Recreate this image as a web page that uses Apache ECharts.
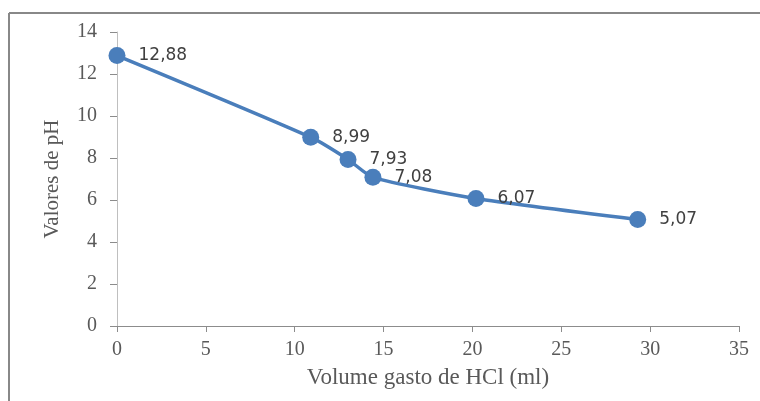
<!DOCTYPE html>
<html><head><meta charset="utf-8">
<script src="https://cdn.jsdelivr.net/npm/echarts@6/dist/echarts.min.js"></script>
<style>html,body{margin:0;padding:0;background:#fff}#c{width:760px;height:401px}</style>
</head><body><div id="c"></div>
<script>
var volumes = [0, 10.9, 13.0, 14.4, 20.2, 29.3];
var phValues = [12.88, 8.99, 7.93, 7.08, 6.07, 5.07];
var phLabels = ['12,88', '8,99', '7,93', '7,08', '6,07', '5,07'];
var xTitle = 'Volume gasto de HCl (ml)';
var yTitle = 'Valores de pH';

var chart = echarts.init(document.getElementById('c'), null, {renderer: 'canvas'});
var data = volumes.map(function (v, i) { return [v, phValues[i]]; });
var serif = '"Liberation Serif", "DejaVu Serif", serif';
chart.setOption({
  animation: false,
  backgroundColor: '#fff',
  grid: {left: 117, right: 21, top: 32, bottom: 75, containLabel: false},
  xAxis: {
    type: 'value', min: 0, max: 35, interval: 5,
    name: xTitle, nameLocation: 'middle', nameGap: 40,
    nameTextStyle: {fontFamily: serif, fontSize: 23, color: '#595959'},
    axisLine: {show: true, lineStyle: {color: '#8c8c8c', width: 1}},
    axisTick: {show: true, length: 6, lineStyle: {color: '#8c8c8c'}},
    axisLabel: {fontFamily: serif, fontSize: 20, color: '#595959', margin: 14},
    splitLine: {show: false}
  },
  yAxis: {
    type: 'value', min: 0, max: 14, interval: 2,
    name: yTitle, nameLocation: 'middle', nameGap: 54, nameRotate: 90,
    nameTextStyle: {fontFamily: serif, fontSize: 21, color: '#595959'},
    axisLine: {show: true, lineStyle: {color: '#bfbfbf', width: 1}},
    axisTick: {show: true, length: 7, lineStyle: {color: '#8c8c8c'}},
    axisLabel: {fontFamily: serif, fontSize: 20, color: '#595959', margin: 20},
    splitLine: {show: false}
  },
  series: [{
    type: 'line', data: data, smooth: 0.2,
    symbol: 'circle', symbolSize: 17,
    lineStyle: {color: '#4a7ebb', width: 3.5},
    itemStyle: {color: '#4a7ebb'},
    label: {
      show: true, position: 'right', distance: 13,
      fontFamily: '"DejaVu Sans", Verdana, sans-serif', fontSize: 17, color: '#404040',
      formatter: function (p) { return phLabels[p.dataIndex]; }
    }
  }],
  graphic: [
    {type: 'line', shape: {x1: 9, y1: 13, x2: 760, y2: 13}, style: {stroke: '#888', lineWidth: 2}},
    {type: 'line', shape: {x1: 9, y1: 13, x2: 9, y2: 401}, style: {stroke: '#888', lineWidth: 2}}
  ]
});
</script></body></html>
